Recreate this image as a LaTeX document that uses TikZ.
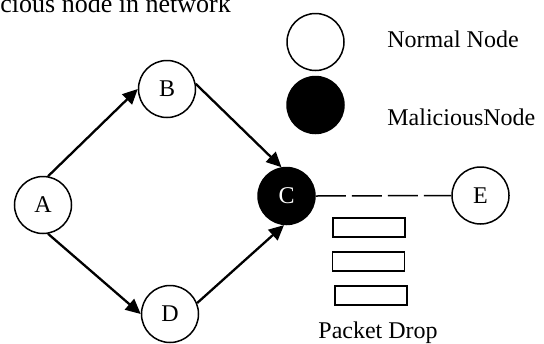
\documentclass[tikz,border=0pt]{standalone}
\usepackage{fontspec}
\setmainfont{Liberation Serif}
\usetikzlibrary{arrows.meta}
\begin{document}
\begin{tikzpicture}[x=0.5pt,y=-0.5pt,font=\fontsize{12}{14}\selectfont]{
    \useasboundingbox (0,0) rectangle (544,343);
    \tikzstyle{peer}=[circle, draw, line width=0.75pt, minimum size=28.5pt, inner sep=0pt]
    \tikzstyle{rogue}=[peer, fill=black, text=white]
    \tikzstyle{caption}=[anchor=base west, inner sep=0pt]
    \tikzstyle{packet}=[draw, line width=0.9pt, minimum width=36pt, minimum height=9.5pt, inner sep=0pt]

    \node[caption, font=\fontsize{13}{15}\selectfont] (title) at (0,12) {cious node in network};

    \node[peer]  (A) at (43,205) {A};
    \node[peer]  (B) at (167,89) {B};
    \node[rogue] (C) at (286.5,196) {C};
    \node[peer]  (D) at (170,314) {D};
    \node[peer]  (E) at (480.5,195.5) {E};

    \node[peer]  (keynormal) at (315.5,42) {};
    \node[rogue] (keymalicious) at (315.5,105) {};
    \node[caption] (normaltext) at (387,47) {Normal Node};
    \node[caption] (malicioustext) at (387,125) {MaliciousNode};

    \node[packet] (p1) at (369,227.5) {};
    \node[packet] (p2) at (368.5,261.5) {};
    \node[packet] (p3) at (371,295.5) {};
    \node[caption] (droptext) at (318,338) {Packet Drop};

    \tikzstyle{link} = [-{Triangle[length=7.5pt,width=7pt]}, line width=1.15pt]
    \tikzstyle{lost} = [line width=0.75pt, dash pattern=on 15pt off 3pt]

          \draw [link] (A.80) -- (B.west);
          \draw [link] (A.-80) -- (D.west);

          \draw [link] (B.10) -- (C.100);
          \draw [link] (D.22) -- (C.-95);

          \draw [lost] (C.east) -- (E.west);}
\end{tikzpicture}
\end{document}
